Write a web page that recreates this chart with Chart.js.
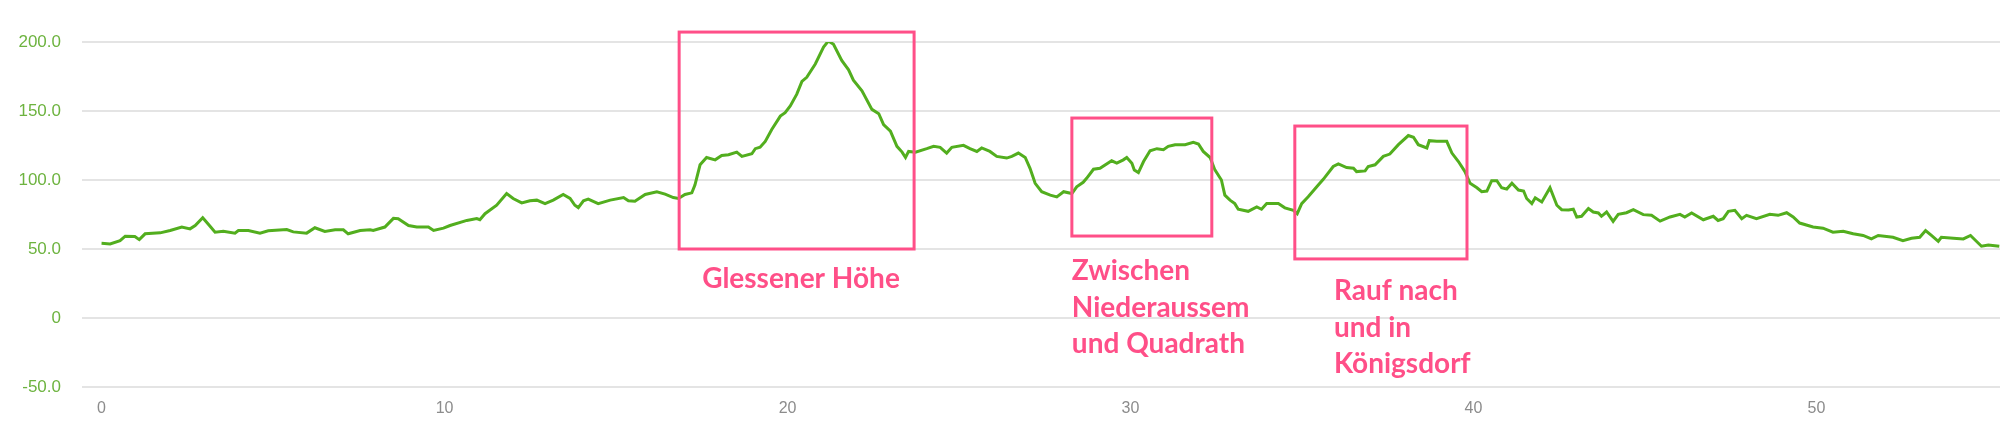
<!DOCTYPE html>
<html>
<head>
<meta charset="utf-8">
<script src="https://cdn.jsdelivr.net/npm/chart.js@4.4.0/dist/chart.umd.min.js"></script>
<style>
  html, body { margin: 0; padding: 0; background: #ffffff; }
  #wrap { width: 2000px; height: 431px; }
</style>
</head>
<body>
<div id="wrap"><canvas id="c" width="2000" height="431"></canvas></div>
<script>
// ---- data (distance in km, elevation in m) ----
const distanceKm = [
  0.0, 0.25, 0.54, 0.69, 0.97, 1.1, 1.27, 1.71, 2.0, 2.34, 2.58, 2.73, 2.95, 3.12, 3.31, 3.55, 3.89, 3.99, 4.28, 4.62,
  4.86, 5.4, 5.59, 5.98, 6.22, 6.51, 6.81, 7.05, 7.19, 7.54, 7.83, 7.92, 8.26, 8.51, 8.65, 8.95, 9.19, 9.53, 9.68, 9.97,
  10.16, 10.65, 10.94, 11.03, 11.18, 11.52, 11.81, 12.0, 12.25, 12.49, 12.69, 12.93, 13.17, 13.46, 13.66, 13.8, 13.9, 14.05, 14.19, 14.48,
  14.83, 15.22, 15.36, 15.55, 15.85, 16.19, 16.43, 16.67, 16.82, 17.01, 17.21, 17.3, 17.45, 17.64, 17.89, 18.08, 18.28, 18.52, 18.67, 18.96,
  19.06, 19.2, 19.35, 19.54, 19.79, 19.93, 20.08, 20.27, 20.42, 20.56, 20.81, 21.05, 21.19, 21.34, 21.58, 21.78, 21.92, 22.17, 22.46, 22.66,
  22.8, 23.0, 23.19, 23.34, 23.44, 23.53, 23.73, 24.06, 24.26, 24.45, 24.64, 24.79, 25.13, 25.32, 25.52, 25.66, 25.9, 26.1, 26.39, 26.54,
  26.73, 26.93, 27.07, 27.22, 27.41, 27.66, 27.85, 28.05, 28.29, 28.43, 28.62, 28.72, 28.92, 29.11, 29.45, 29.6, 29.79, 29.89, 30.04, 30.11,
  30.23, 30.38, 30.57, 30.77, 30.96, 31.1, 31.3, 31.59, 31.83, 31.98, 32.12, 32.32, 32.46, 32.65, 32.75, 32.9, 33.04, 33.14, 33.43, 33.68,
  33.82, 33.97, 34.31, 34.5, 34.75, 34.86, 34.99, 35.18, 35.43, 35.62, 35.91, 36.06, 36.3, 36.5, 36.59, 36.84, 36.93, 37.13, 37.37, 37.56,
  37.81, 38.1, 38.25, 38.39, 38.64, 38.71, 38.93, 39.22, 39.37, 39.56, 39.75, 39.9, 40.1, 40.24, 40.39, 40.53, 40.68, 40.82, 40.97, 41.12,
  41.31, 41.46, 41.55, 41.7, 41.8, 41.99, 42.23, 42.43, 42.57, 42.77, 42.91, 43.01, 43.15, 43.35, 43.49, 43.64, 43.73, 43.88, 44.07, 44.22,
  44.46, 44.66, 44.95, 45.19, 45.44, 45.73, 46.02, 46.16, 46.36, 46.7, 46.99, 47.13, 47.28, 47.43, 47.62, 47.82, 47.96, 48.25, 48.64, 48.88,
  49.13, 49.32, 49.51, 49.9, 50.19, 50.48, 50.78, 51.07, 51.36, 51.6, 51.8, 52.23, 52.52, 52.77, 53.01, 53.18, 53.35, 53.55, 53.64, 53.99,
  54.28, 54.49, 54.81, 55.01, 55.33
];
const elevationM = [
  54.1, 53.7, 56, 59.3, 59, 56.8, 61, 61.7, 63.4, 65.9, 64.6, 67, 72.7, 67.8, 62.2, 62.9, 61.5, 63.4, 63.4, 61.5,
  63.2, 64.1, 62.4, 61.5, 65.4, 62.7, 63.9, 63.9, 61, 63.4, 63.9, 63.4, 65.9, 72.2, 72, 67, 65.9, 65.9, 63.4, 65.1,
  67, 70.7, 72, 71.2, 75.6, 81.7, 90.2, 86.6, 83.4, 84.9, 85.4, 82.9, 85.4, 89.5, 86.6, 81.7, 80, 84.9, 86.1, 82.9,
  85.4, 87.3, 84.9, 84.6, 89.5, 91.5, 89.8, 87.3, 86.6, 89.5, 90.7, 96.3, 111, 116.3, 114.6, 117.8, 118.3, 120.2, 117.1, 119,
  122.7, 123.7, 128, 136.6, 146.3, 148.8, 153.7, 162.2, 171.5, 174.4, 184.1, 196.3, 200.7, 198.3, 186.6, 179.8, 172.4, 164.6, 151.2, 148,
  140.2, 135.4, 124.4, 120.2, 116.3, 120.7, 120.2, 122.7, 124.4, 123.7, 119.5, 123.7, 125.1, 122.7, 120.7, 123.2, 120.7, 117.1, 115.9, 117.1,
  119.5, 116.3, 108.5, 97.6, 91.5, 89, 87.8, 91.5, 90.2, 95.1, 98.3, 101.2, 107.8, 108.5, 113.9, 112.2, 114.6, 116.3, 112.2, 107.3,
  105.4, 113.4, 121.2, 122.7, 122, 124.4, 125.6, 125.6, 127.3, 126.1, 120.7, 116.3, 107.3, 100, 89, 85.4, 82.9, 78.8, 77.3, 80.5,
  78.8, 82.9, 82.9, 79.8, 78, 75.6, 82.9, 87.8, 95.1, 100.5, 109.8, 111.7, 109, 108.5, 106.1, 106.6, 109.8, 111, 117.1, 118.8,
  125.6, 132.2, 131, 125.6, 123.2, 128.5, 128, 128, 119.5, 113.4, 106.1, 97.6, 94.4, 91.5, 92, 99.5, 99.5, 94.4, 93.4, 97.6,
  92.7, 92, 86.6, 82.9, 87.1, 84.1, 94.4, 81.7, 78.5, 78.3, 78.8, 73.2, 73.7, 79.3, 76.8, 76.1, 73.7, 76.8, 70, 75.1,
  76.3, 78.5, 74.9, 74.4, 70.2, 73.2, 75.1, 73.2, 76.1, 71.2, 73.7, 70.7, 72, 77.3, 78, 72, 74.4, 72, 75.1, 74.4,
  76.3, 73.2, 68.8, 65.9, 65.1, 62.2, 62.9, 61, 59.8, 57.3, 59.8, 58.5, 56.1, 57.8, 58.5, 63.4, 59.8, 55.6, 58.5, 57.8,
  57.3, 59.8, 52, 52.9, 52
];
const xTickValues = [0, 10, 20, 30, 40, 50];
const yTickValues = [-50, 0, 50, 100, 150, 200];
const yTickLabels = ['-50.0', '0', '50.0', '100.0', '150.0', '200.0'];

// annotation boxes in data units (km / m)
const boxKmFrom = [16.84, 28.29, 34.79];
const boxKmTo   = [23.69, 32.37, 39.81];
const boxMTop   = [207.2, 144.9, 139.1];
const boxMBottom= [50.0, 59.4, 42.8];
const noteLines = [['Glessener Höhe'], ['Zwischen', 'Niederaussem', 'und Quadrath'], ['Rauf nach', 'und in', 'Königsdorf']];
const noteKm = [17.51, 28.29, 35.93];
const noteM  = [21.7, 27.5, 13.0];

const points = distanceKm.map((d, i) => ({ x: d, y: elevationM[i] }));

const PINK = '#ff4f88';

const annotationPlugin = {
  id: 'notes',
  afterDatasetsDraw(chart) {
    const { ctx, scales: { x, y } } = chart;
    ctx.save();
    ctx.strokeStyle = PINK;
    ctx.lineWidth = 3;
    for (let i = 0; i < boxKmFrom.length; i++) {
      const l = x.getPixelForValue(boxKmFrom[i]);
      const r = x.getPixelForValue(boxKmTo[i]);
      const t = y.getPixelForValue(boxMTop[i]);
      const b = y.getPixelForValue(boxMBottom[i]);
      ctx.strokeRect(l, t, r - l, b - t);
    }
    ctx.fillStyle = PINK;
    ctx.font = 'bold 28px Lato, "Open Sans", sans-serif';
    ctx.textBaseline = 'alphabetic';
    ctx.textAlign = 'left';
    for (let i = 0; i < noteLines.length; i++) {
      const px = x.getPixelForValue(noteKm[i]);
      const py = y.getPixelForValue(noteM[i]);
      noteLines[i].forEach((line, j) => ctx.fillText(line, px, py + j * 36.5));
    }
    ctx.restore();
  }
};

new Chart(document.getElementById('c'), {
  type: 'line',
  data: {
    datasets: [{
      data: points,
      borderColor: '#52ae1e',
      borderWidth: 3,
      pointRadius: 0,
      tension: 0,
      fill: false
    }]
  },
  options: {
    responsive: false,
    animation: false,
    events: [],
    layout: { padding: { top: 42, left: 0, right: 0, bottom: 0 } },
    plugins: { legend: { display: false }, tooltip: { enabled: false } },
    scales: {
      x: {
        type: 'linear',
        min: -0.57,
        max: 55.35,
        afterBuildTicks: s => { s.ticks = xTickValues.map(v => ({ value: v })); },
        afterFit: s => { s.height = 44; },
        grid: { display: false, drawTicks: false },
        border: { display: false },
        ticks: {
          padding: 12,
          color: '#8c8c8c',
          font: { family: '"Liberation Sans", Arial, sans-serif', size: 16 },
          maxRotation: 0,
          autoSkip: false,
          callback: v => String(v)
        }
      },
      y: {
        min: -50,
        max: 200,
        afterBuildTicks: s => { s.ticks = yTickValues.map(v => ({ value: v })); },
        afterFit: s => { s.width = 82; },
        grid: { color: '#e4e4e4', lineWidth: 2, drawTicks: false },
        border: { display: false },
        ticks: {
          padding: 21,
          color: '#6db33f',
          font: { family: '"Liberation Sans", Arial, sans-serif', size: 17 },
          callback: v => yTickLabels[yTickValues.indexOf(v)]
        }
      }
    }
  },
  plugins: [annotationPlugin]
});
</script>
</body>
</html>
